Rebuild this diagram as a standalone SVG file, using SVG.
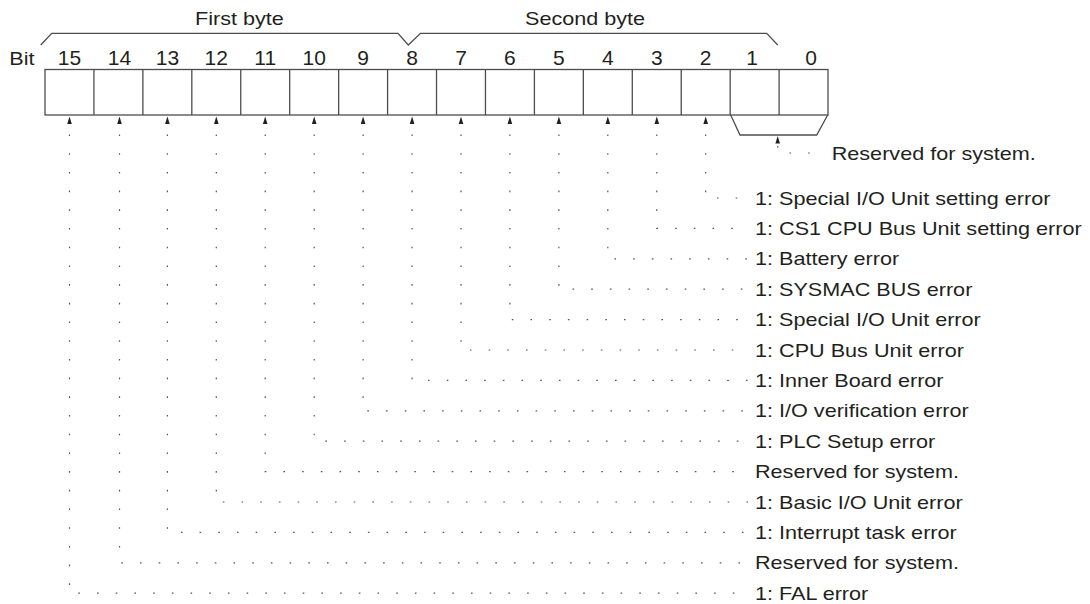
<svg xmlns="http://www.w3.org/2000/svg" xmlns:xlink="http://www.w3.org/1999/xlink" width="1090" height="604" viewBox="0 0 1090 604">
<style>
  .t { font-family: "Liberation Sans", Arial, Helvetica, sans-serif; font-size: 18.4px; fill: #231f20; }
  .d { font-family: "Liberation Sans", Arial, Helvetica, sans-serif; font-size: 21px; fill: #231f20; text-anchor: middle; }
  .cell { fill: #ffffff; stroke: #4d4d4d; stroke-width: 1.3; }
  .ln { fill: none; stroke: #4d4d4d; stroke-width: 1.3; }
  .dot { fill: none; stroke: #555555; stroke-width: 1.2; stroke-dasharray: 1.6 17.1; }
  .ah { fill: #231f20; }
</style>
<defs>
  <path id="ah" d="M0,0 L2.3,7.5 L-2.3,7.5 Z"/>
</defs>
<rect width="1090" height="604" fill="#ffffff"/>

<g id="byte-braces">
  <path class="ln" d="M40.7,45 L51.7,33.3 H398 L408.3,45 L420.5,33.3 H766.7 L777.7,45"/>
  <text class="t" transform="translate(195,25) scale(1.175,1)">First byte</text>
  <text class="t" transform="translate(525,25) scale(1.175,1)">Second byte</text>
</g>

<g id="bit-numbers">
  <text class="t" transform="translate(9.3,65) scale(1.175,1)">Bit</text>
  <text class="d" x="69.5" y="65">15</text>
  <text class="d" x="119.5" y="65">14</text>
  <text class="d" x="167.4" y="65">13</text>
  <text class="d" x="216.3" y="65">12</text>
  <text class="d" x="265.2" y="65">11</text>
  <text class="d" x="314.2" y="65">10</text>
  <text class="d" x="363.1" y="65">9</text>
  <text class="d" x="412.1" y="65">8</text>
  <text class="d" x="461" y="65">7</text>
  <text class="d" x="509.9" y="65">6</text>
  <text class="d" x="558.9" y="65">5</text>
  <text class="d" x="607.8" y="65">4</text>
  <text class="d" x="656.8" y="65">3</text>
  <text class="d" x="705.7" y="65">2</text>
  <text class="d" x="752" y="65">1</text>
  <text class="d" x="811" y="65">0</text>
</g>

<g id="register">
  <rect class="cell" x="45" y="69.5" width="783" height="45.5"/>
  <path class="ln" d="M93.94,69.5V115 M142.88,69.5V115 M191.82,69.5V115 M240.76,69.5V115 M289.7,69.5V115 M338.64,69.5V115 M387.58,69.5V115 M436.52,69.5V115 M485.46,69.5V115 M534.4,69.5V115 M583.34,69.5V115 M632.28,69.5V115 M681.22,69.5V115 M730.16,69.5V115 M779.1,69.5V115"/>
  <path class="ln" d="M730.7,115 L740,135 H816.7 L827.7,115"/>
</g>

<g id="connectors">
  <use href="#ah" class="ah" x="69.5" y="116.5"/>
  <use href="#ah" class="ah" x="119.5" y="116.5"/>
  <use href="#ah" class="ah" x="167.4" y="116.5"/>
  <use href="#ah" class="ah" x="216.3" y="116.5"/>
  <use href="#ah" class="ah" x="265.2" y="116.5"/>
  <use href="#ah" class="ah" x="314.2" y="116.5"/>
  <use href="#ah" class="ah" x="363.1" y="116.5"/>
  <use href="#ah" class="ah" x="412.1" y="116.5"/>
  <use href="#ah" class="ah" x="461" y="116.5"/>
  <use href="#ah" class="ah" x="509.9" y="116.5"/>
  <use href="#ah" class="ah" x="558.9" y="116.5"/>
  <use href="#ah" class="ah" x="607.8" y="116.5"/>
  <use href="#ah" class="ah" x="656.8" y="116.5"/>
  <use href="#ah" class="ah" x="705.7" y="116.5"/>
  <use href="#ah" class="ah" x="777.7" y="136"/>

  <path class="dot" d="M777.7,146 V153 H823"/>
  <path class="dot" d="M705.7,134.5 V198 H748"/>
  <path class="dot" d="M656.8,134.5 V228.4 H748"/>
  <path class="dot" d="M607.8,134.5 V258.8 H748"/>
  <path class="dot" d="M558.9,134.5 V289.2 H748"/>
  <path class="dot" d="M509.9,134.5 V319.6 H748"/>
  <path class="dot" d="M461,134.5 V350 H748"/>
  <path class="dot" d="M412.1,134.5 V380.4 H748"/>
  <path class="dot" d="M363.1,134.5 V410.8 H748"/>
  <path class="dot" d="M314.2,134.5 V441.2 H748"/>
  <path class="dot" d="M265.2,134.5 V471.6 H748"/>
  <path class="dot" d="M216.3,134.5 V502 H748"/>
  <path class="dot" d="M167.4,134.5 V532.4 H748"/>
  <path class="dot" d="M119.5,134.5 V562.8 H748"/>
  <path class="dot" d="M69.5,134.5 V593.2 H748"/>
</g>

<g id="label-bits-1-0"><text class="t" transform="translate(831.7,159.6) scale(1.175,1)">Reserved for system.</text></g>
<g id="label-bit-2"><text class="t" transform="translate(755,204.6) scale(1.175,1)">1: Special I/O Unit setting error</text></g>
<g id="label-bit-3"><text class="t" transform="translate(755,235) scale(1.175,1)">1: CS1 CPU Bus Unit setting error</text></g>
<g id="label-bit-4"><text class="t" transform="translate(755,265.4) scale(1.175,1)">1: Battery error</text></g>
<g id="label-bit-5"><text class="t" transform="translate(755,295.8) scale(1.175,1)">1: SYSMAC BUS error</text></g>
<g id="label-bit-6"><text class="t" transform="translate(755,326.2) scale(1.175,1)">1: Special I/O Unit error</text></g>
<g id="label-bit-7"><text class="t" transform="translate(755,356.6) scale(1.175,1)">1: CPU Bus Unit error</text></g>
<g id="label-bit-8"><text class="t" transform="translate(755,387) scale(1.175,1)">1: Inner Board error</text></g>
<g id="label-bit-9"><text class="t" transform="translate(755,417.4) scale(1.175,1)">1: I/O verification error</text></g>
<g id="label-bit-10"><text class="t" transform="translate(755,447.8) scale(1.175,1)">1: PLC Setup error</text></g>
<g id="label-bit-11"><text class="t" transform="translate(755,478.2) scale(1.175,1)">Reserved for system.</text></g>
<g id="label-bit-12"><text class="t" transform="translate(755,508.6) scale(1.175,1)">1: Basic I/O Unit error</text></g>
<g id="label-bit-13"><text class="t" transform="translate(755,539) scale(1.175,1)">1: Interrupt task error</text></g>
<g id="label-bit-14"><text class="t" transform="translate(755,569.4) scale(1.175,1)">Reserved for system.</text></g>
<g id="label-bit-15"><text class="t" transform="translate(755,599.8) scale(1.175,1)">1: FAL error</text></g>
</svg>
